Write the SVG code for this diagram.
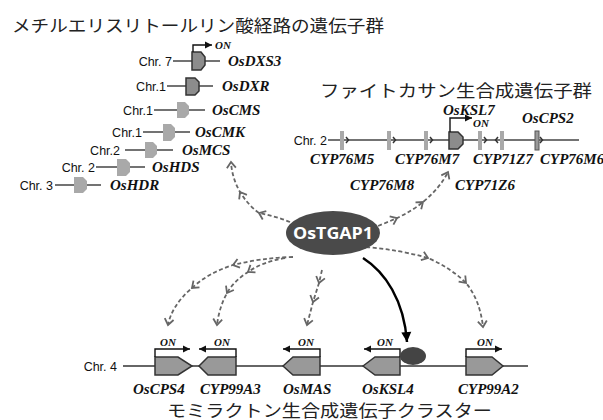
<svg xmlns="http://www.w3.org/2000/svg" width="603" height="420" viewBox="0 0 603 420">
<style>
.ttl{font-family:"Noto Sans CJK JP","Noto Sans",sans-serif;font-size:17px;fill:#222}
.chr{font-family:"Liberation Sans",Arial,sans-serif;font-size:12.5px;fill:#111}
.gn{font-family:"Liberation Serif","Times New Roman",serif;font-size:15px;font-weight:bold;font-style:italic;fill:#111}
.on{font-family:"Liberation Serif","Times New Roman",serif;font-size:11px;font-weight:bold;font-style:italic;fill:#111}
.cl{stroke:#444;stroke-width:1.3;fill:none}
.gl{fill:#a9a9a9;stroke:none}
.gd{fill:#8c8c8c;stroke:#333;stroke-width:1.5}
.gb{fill:#999;stroke:#333;stroke-width:1.5}
.onl{stroke:#111;stroke-width:1.4;fill:none;marker-end:url(#ah)}
.dsh{stroke:#666;stroke-width:1.8;fill:none;stroke-dasharray:4 2.5;marker-mid:url(#ch);marker-end:url(#ch)}
.mk{stroke:#333;stroke-width:1.5;fill:none}
</style>
<defs>
<marker id="ah" markerUnits="userSpaceOnUse" markerWidth="10" markerHeight="10" refX="7" refY="0" viewBox="0 -5 8 10" orient="auto" overflow="visible">
<path d="M0,-3.5 L7,0 L0,3.5 Z" fill="#111"/>
</marker>
<marker id="ch" markerUnits="userSpaceOnUse" markerWidth="12" markerHeight="12" refX="0" refY="0" viewBox="-8 -6 10 12" orient="auto" overflow="visible">
<path d="M-6,-4.5 L0,0 L-6,4.5" fill="none" stroke="#666" stroke-width="1.8"/>
</marker>
<marker id="sh" markerUnits="userSpaceOnUse" markerWidth="14" markerHeight="14" refX="10" refY="0" viewBox="0 -7 12 14" orient="auto" overflow="visible">
<path d="M0,-5 L10,0 L0,5 Z" fill="#000"/>
</marker>
</defs>

<rect width="603" height="420" fill="#fff"/>

<text class="ttl" x="12" y="32" textLength="372" lengthAdjust="spacingAndGlyphs">メチルエリスリトールリン酸経路の遺伝子群</text>
<text class="ttl" x="320" y="97" textLength="272" lengthAdjust="spacingAndGlyphs">ファイトカサン生合成遺伝子群</text>
<text class="ttl" x="167" y="416.5" textLength="325" lengthAdjust="spacingAndGlyphs">モミラクトン生合成遺伝子クラスター</text>

<!-- MEP pathway genes -->
<g id="OsDXS3">
<text class="chr" x="172" y="65.5" text-anchor="end">Chr. 7</text>
<line class="cl" x1="173" y1="61" x2="220" y2="61"/>
<polygon class="gd" points="192,52 201,52 205,57 205,65 201,70 192,70"/>
<path class="onl" d="M193,52 V45 H212"/>
<text class="on" x="215" y="48.5">ON</text>
<text class="gn" x="228" y="66">OsDXS3</text>
</g>
<g id="OsDXR">
<text class="chr" x="166" y="90.5" text-anchor="end">Chr.1</text>
<line class="cl" x1="167" y1="86" x2="213" y2="86"/>
<polygon class="gd" points="186,78 195,78 199,82 199,91 195,95 186,95"/>
<text class="gn" x="222" y="91">OsDXR</text>
</g>
<g id="OsCMS">
<text class="chr" x="153" y="114.5" text-anchor="end">Chr.1</text>
<line class="cl" x1="154" y1="110" x2="205" y2="110"/>
<polygon class="gl" points="177,102 185,102 189,106 189,114 185,118 177,118"/>
<text class="gn" x="212" y="115">OsCMS</text>
</g>
<g id="OsCMK">
<text class="chr" x="142" y="136.5" text-anchor="end">Chr.1</text>
<line class="cl" x1="143" y1="132" x2="190" y2="132"/>
<polygon class="gl" points="163,124 171,124 175,128 175,137 171,141 163,141"/>
<text class="gn" x="195" y="137">OsCMK</text>
</g>
<g id="OsMCS">
<text class="chr" x="120" y="154.5" text-anchor="end">Chr.2</text>
<line class="cl" x1="125" y1="150" x2="173" y2="150"/>
<polygon class="gl" points="145,142 153,142 157,146 157,154 153,158 145,158"/>
<text class="gn" x="182" y="155">OsMCS</text>
</g>
<g id="OsHDS">
<text class="chr" x="95" y="171.5" text-anchor="end">Chr. 2</text>
<line class="cl" x1="96" y1="167" x2="145" y2="167"/>
<polygon class="gl" points="117,159 126,159 130,163 130,172 126,176 117,176"/>
<text class="gn" x="152" y="172">OsHDS</text>
</g>
<g id="OsHDR">
<text class="chr" x="53" y="189.5" text-anchor="end">Chr. 3</text>
<line class="cl" x1="55" y1="185" x2="101" y2="185"/>
<polygon class="gl" points="74,177 83,177 87,181 87,189 83,193 74,193"/>
<text class="gn" x="110" y="190">OsHDR</text>
</g>

<!-- Phytocassane cluster -->
<g id="phytocassane">
<text class="chr" x="327" y="144.5" text-anchor="end">Chr. 2</text>
<line class="cl" x1="328" y1="140" x2="579" y2="140"/>
<rect class="gl" x="340" y="131" width="4" height="19"/>
<path class="mk" d="M346,137 L348.5,140 L346,143"/>
<rect class="gl" x="387" y="131" width="4" height="19"/>
<path class="mk" d="M393,137 L395.5,140 L393,143"/>
<rect class="gl" x="424" y="131" width="4" height="19"/>
<path class="mk" d="M430,137 L432.5,140 L430,143"/>
<polygon class="gd" points="449,132 458,132 463,137 463,144 458,149 449,149"/>
<path class="onl" d="M450,132 V118 H472"/>
<text class="on" x="473" y="127">ON</text>
<rect class="gl" x="478" y="131" width="4" height="19"/>
<path class="mk" d="M484,137 L486.5,140 L484,143"/>
<path class="mk" d="M498,137 L495.5,140 L498,143"/>
<rect class="gl" x="500" y="131" width="4" height="19"/>
<rect x="535" y="131" width="4" height="19" fill="#999" stroke="#555" stroke-width="1"/>
<path class="mk" d="M540,137 L542.5,140 L540,143"/>
<text class="gn" x="443" y="115">OsKSL7</text>
<text class="gn" x="522" y="123">OsCPS2</text>
<text class="gn" x="310" y="164">CYP76M5</text>
<text class="gn" x="395" y="164">CYP76M7</text>
<text class="gn" x="473" y="164">CYP71Z7</text>
<text class="gn" x="540" y="164">CYP76M6</text>
<text class="gn" x="350" y="190">CYP76M8</text>
<text class="gn" x="455" y="190">CYP71Z6</text>
</g>

<!-- Momilactone cluster -->
<g id="momilactone">
<text class="chr" x="117" y="370.5" text-anchor="end">Chr. 4</text>
<line x1="123" y1="366" x2="528" y2="366" stroke="#333" stroke-width="1.3"/>
<polygon class="gb" points="155,357 178,357 192,366 178,375 155,375"/>
<path class="onl" d="M155,357 V349 H190"/>
<text class="on" x="168" y="346" text-anchor="middle">ON</text>
<polygon class="gb" points="199,366 208,357 236,357 236,375 208,375"/>
<path class="onl" d="M236,357 V349 H199"/>
<text class="on" x="222" y="346" text-anchor="middle">ON</text>
<polygon class="gb" points="283,366 293,357 320,357 320,375 293,375"/>
<path class="onl" d="M320,357 V349 H283"/>
<text class="on" x="306" y="346" text-anchor="middle">ON</text>
<polygon class="gb" points="363,366 375,357 400,357 400,375 375,375"/>
<path class="onl" d="M400,357 V349 H364"/>
<text class="on" x="385" y="346" text-anchor="middle">ON</text>
<ellipse cx="413" cy="356" rx="13" ry="9" fill="#444"/>
<polygon class="gb" points="466,357 492,357 503,366 492,375 466,375"/>
<path class="onl" d="M466,357 V349 H502"/>
<text class="on" x="485" y="346" text-anchor="middle">ON</text>
<text class="gn" x="133" y="394">OsCPS4</text>
<text class="gn" x="200" y="394">CYP99A3</text>
<text class="gn" x="283" y="394">OsMAS</text>
<text class="gn" x="362" y="394">OsKSL4</text>
<text class="gn" x="458" y="394">CYP99A2</text>
</g>

<!-- connectors -->
<g id="connectors">
<path class="dsh" d="M290,222 Q275,216 259,213 Q248,205 240,192 Q232,178 231,162"/>
<path class="dsh" d="M378,226 Q388,222 397,218 Q412,211 423,202 Q440,188 448,172"/>
<path class="dsh" d="M366,247 Q400,250 428,258 Q451,268 466,283 Q480,300 483,327"/>
<path class="dsh" d="M293,257 Q260,258 233,265 Q208,273 192,288 Q172,305 168,325"/>
<path class="dsh" d="M285,258 Q262,262 248,272 Q234,281 227,293 Q219,308 217,325"/>
<path class="dsh" d="M322,270 L319,283 L313,302 L307,325"/>
<path d="M363,258 C385,272 404,300 407,342" fill="none" stroke="#000" stroke-width="2.5" marker-end="url(#sh)"/>
</g>

<g id="OsTGAP1">
<ellipse cx="333" cy="233" rx="47" ry="22" fill="#4a4a4a"/>
<text x="333" y="239" text-anchor="middle" font-family="'Open Sans','Liberation Sans',sans-serif" font-weight="bold" font-size="16" fill="#fff" textLength="80" lengthAdjust="spacingAndGlyphs">OsTGAP1</text>
</g>
</svg>
